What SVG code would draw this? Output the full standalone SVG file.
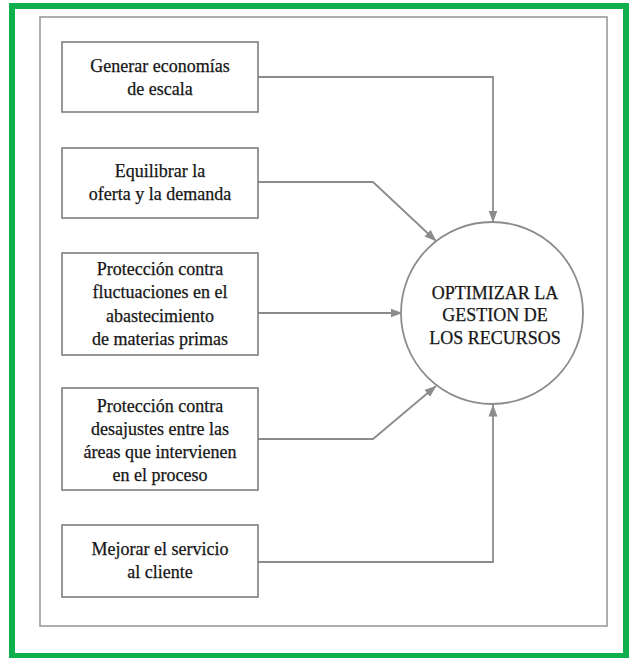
<svg xmlns="http://www.w3.org/2000/svg" width="630" height="658" viewBox="0 0 630 658">
  <style>
    .frame { fill: none; stroke: #9a9a9a; stroke-width: 1.6; }
    .box { fill: #ffffff; stroke: #7e7e7e; stroke-width: 1.6; }
    .conn { fill: none; stroke: #8c8c8c; stroke-width: 1.8; marker-end: url(#arrow); }
    .label { font-size: 18px; fill: #161616; stroke: #161616; stroke-width: 0.25; text-anchor: middle; }
  </style>
  <defs>
    <marker id="arrow" viewBox="0 0 12 10" refX="11.5" refY="5" markerWidth="12" markerHeight="10" markerUnits="userSpaceOnUse" orient="auto">
      <path d="M0,0.5 L12,5 L0,9.5 Z" fill="#8c8c8c"/>
    </marker>
  </defs>

  <rect x="0" y="0" width="630" height="658" fill="#ffffff"/>
  <!-- outer green border -->
  <rect x="12" y="6" width="614" height="650" fill="none" stroke="#0db04b" stroke-width="6"/>
  <!-- inner grey frame -->
  <rect class="frame" x="40" y="17" width="567" height="609"/>

  <g id="connectors">
    <path class="conn" d="M258,77 H493 V222"/>
    <path class="conn" d="M258,182 H373 L436,241"/>
    <path class="conn" d="M258,313 H402"/>
    <path class="conn" d="M258,439 H373 L436,386"/>
    <path class="conn" d="M258,562 H493 V405"/>
  </g>

  <g font-family="'Liberation Serif', 'Times New Roman', 'DejaVu Serif', serif">
    <g id="n1">
      <rect class="box" x="62" y="42" width="196" height="70"/>
      <text class="label" x="160" y="72">Generar economías</text>
      <text class="label" x="160" y="95">de escala</text>
    </g>

    <g id="n2">
      <rect class="box" x="62" y="148" width="196" height="70"/>
      <text class="label" x="160" y="177">Equilibrar la</text>
      <text class="label" x="160" y="200">oferta y la demanda</text>
    </g>

    <g id="n3">
      <rect class="box" x="62" y="253" width="196" height="102"/>
      <text class="label" x="160" y="275">Protección contra</text>
      <text class="label" x="160" y="298">fluctuaciones en el</text>
      <text class="label" x="160" y="322">abastecimiento</text>
      <text class="label" x="160" y="345">de materias primas</text>
    </g>

    <g id="n4">
      <rect class="box" x="62" y="388" width="196" height="102"/>
      <text class="label" x="160" y="412">Protección contra</text>
      <text class="label" x="160" y="435">desajustes entre las</text>
      <text class="label" x="160" y="458">áreas que intervienen</text>
      <text class="label" x="160" y="481">en el proceso</text>
    </g>

    <g id="n5">
      <rect class="box" x="62" y="525" width="196" height="72"/>
      <text class="label" x="160" y="555">Mejorar el servicio</text>
      <text class="label" x="160" y="578">al cliente</text>
    </g>

    <g id="goal">
      <circle cx="492" cy="313" r="91" fill="#ffffff" stroke="#8c8c8c" stroke-width="1.8"/>
      <text class="label" x="495" y="299">OPTIMIZAR LA</text>
      <text class="label" x="495" y="321">GESTION DE</text>
      <text class="label" x="495" y="344">LOS RECURSOS</text>
    </g>
  </g>
</svg>
